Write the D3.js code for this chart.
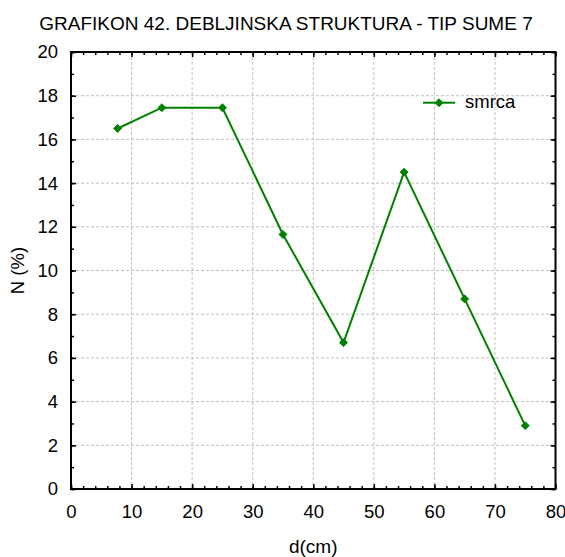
<!DOCTYPE html>
<html><head><meta charset="utf-8">
<script src="https://cdn.jsdelivr.net/npm/d3@7"></script>
<style>body{margin:0;background:#fff;} text{font-family:"Liberation Sans",Arial,sans-serif;}</style>
</head><body>
<svg id="c" width="565" height="557"></svg>
<script>
const title = "GRAFIKON 42. DEBLJINSKA STRUKTURA - TIP SUME 7";
const xLabel = "d(cm)";
const yLabel = "N (%)";
const seriesName = "smrca";
const dValues = [7.7, 15, 25, 35, 45, 55, 65, 75];
const nValues = [16.5, 17.45, 17.45, 11.65, 6.7, 14.5, 8.7, 2.9];
const xTicks = [0, 10, 20, 30, 40, 50, 60, 70, 80];
const yTicks = [0, 2, 4, 6, 8, 10, 12, 14, 16, 18, 20];

const svg = d3.select("#c");
const L = 71, R = 555.5, T = 52, B = 489;
const FS = 18.5;
const x = d3.scaleLinear().domain([0, 80]).range([L, R]);
const y = d3.scaleLinear().domain([0, 20]).range([B, T]);
const green = "#008000";

// grid
const g = svg.append("g");
g.selectAll("line.vx").data(xTicks.slice(1, -1)).enter().append("line")
  .attr("x1", d => x(d)).attr("x2", d => x(d)).attr("y1", T).attr("y2", B)
  .attr("stroke", "#c0c0c0").attr("stroke-dasharray", "3,2").attr("stroke-width", 1);
g.selectAll("line.hy").data(yTicks.slice(1, -1)).enter().append("line")
  .attr("y1", d => y(d)).attr("y2", d => y(d)).attr("x1", L).attr("x2", R)
  .attr("stroke", "#c0c0c0").attr("stroke-dasharray", "3,2").attr("stroke-width", 1);

// axes with inward ticks
const xMinor = d3.range(0, 81, 2);
const yMinor = d3.range(0, 21, 1);
const fmt = d3.format("d");
svg.append("g").attr("transform", `translate(0,${B})`)
  .call(d3.axisBottom(x).tickValues(xMinor).tickSize(-3).tickFormat(""))
  .call(a => a.select(".domain").remove());
svg.append("g").attr("transform", `translate(0,${B})`)
  .call(d3.axisBottom(x).tickValues(xTicks).tickSize(-5).tickPadding(16).tickFormat(fmt))
  .call(a => a.select(".domain").remove());
svg.append("g").attr("transform", `translate(0,${T})`)
  .call(d3.axisTop(x).tickValues(xMinor).tickSize(-3).tickFormat(""))
  .call(a => a.select(".domain").remove());
svg.append("g").attr("transform", `translate(0,${T})`)
  .call(d3.axisTop(x).tickValues(xTicks).tickSize(-5).tickFormat(""))
  .call(a => a.select(".domain").remove());
svg.append("g").attr("transform", `translate(${L},0)`)
  .call(d3.axisLeft(y).tickValues(yMinor).tickSize(-3).tickFormat(""))
  .call(a => a.select(".domain").remove());
svg.append("g").attr("transform", `translate(${L},0)`)
  .call(d3.axisLeft(y).tickValues(yTicks).tickSize(-5).tickPadding(13).tickFormat(fmt))
  .call(a => a.select(".domain").remove());
svg.append("g").attr("transform", `translate(${R},0)`)
  .call(d3.axisRight(y).tickValues(yMinor).tickSize(-3).tickFormat(""))
  .call(a => a.select(".domain").remove());
svg.append("g").attr("transform", `translate(${R},0)`)
  .call(d3.axisRight(y).tickValues(yTicks).tickSize(-5).tickFormat(""))
  .call(a => a.select(".domain").remove());
svg.selectAll(".tick line").attr("stroke", "#000").attr("stroke-width", 1.5);
svg.selectAll(".tick text").attr("font-size", FS).attr("fill", "#000")
  .attr("font-family", "Liberation Sans, Arial, sans-serif");

svg.append("rect").attr("x", L).attr("y", T).attr("width", R - L).attr("height", B - T)
  .attr("fill", "none").attr("stroke", "#000").attr("stroke-width", 2);

// line
const pts = dValues.map((d, i) => [d, nValues[i]]);
svg.append("path").datum(pts)
  .attr("d", d3.line().x(d => x(d[0])).y(d => y(d[1])))
  .attr("fill", "none").attr("stroke", green).attr("stroke-width", 2);
const diamond = d3.symbol().type(d3.symbolDiamond2).size(40);
svg.selectAll("path.pt").data(pts).enter().append("path")
  .attr("d", diamond).attr("transform", d => `translate(${x(d[0])},${y(d[1])})`)
  .attr("fill", green).attr("stroke", green).attr("stroke-width", 1);

// legend
const ly = 102.7;
svg.append("line").attr("x1", 423).attr("x2", 455).attr("y1", ly).attr("y2", ly)
  .attr("stroke", green).attr("stroke-width", 2);
svg.append("path").attr("d", diamond).attr("transform", `translate(439,${ly})`)
  .attr("fill", green).attr("stroke", green);
svg.append("text").attr("x", 465).attr("y", 108.3).attr("font-size", FS).text(seriesName);

// titles
svg.append("text").attr("x", 286).attr("y", 29.5).attr("text-anchor", "middle")
  .attr("font-size", 19).text(title);
svg.append("text").attr("x", x(40)).attr("y", 553).attr("text-anchor", "middle")
  .attr("font-size", 19).text(xLabel);
svg.append("text").attr("transform", `translate(24,${(T + B) / 2}) rotate(-90)`)
  .attr("text-anchor", "middle").attr("font-size", FS).text(yLabel);
</script>
</body></html>
